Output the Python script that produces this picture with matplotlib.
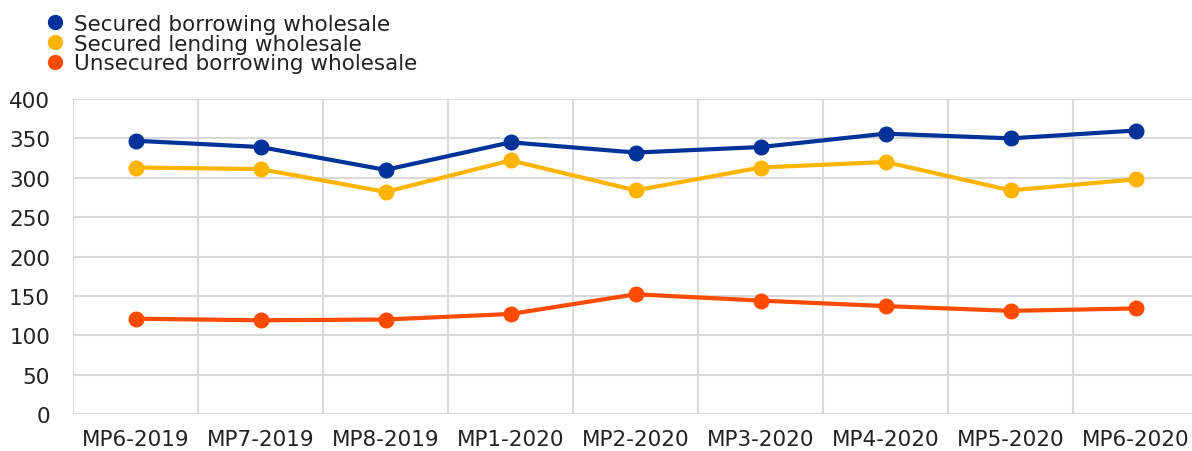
import matplotlib
matplotlib.use("Agg")
import matplotlib.pyplot as plt
import numpy as np

categories = ["MP6-2019", "MP7-2019", "MP8-2019", "MP1-2020", "MP2-2020",
              "MP3-2020", "MP4-2020", "MP5-2020", "MP6-2020"]
secured_borrowing = [347, 339, 310, 345, 332, 339, 356, 350, 360]
secured_lending = [313, 311, 282, 322, 284, 313, 320, 284, 298]
unsecured_borrowing = [121, 119, 120, 127, 152, 144, 137, 131, 134]
yticks = [0, 50, 100, 150, 200, 250, 300, 350, 400]

plt.rcParams['font.family'] = ['DejaVu Sans']

fig = plt.figure(figsize=(11.92, 4.52), dpi=100)
ax = fig.add_axes([73/1192, 37/452, 1 - 73/1192, 315/452])

x = np.arange(len(categories))
series = [
    ("Secured borrowing wholesale", secured_borrowing, "#003299"),
    ("Secured lending wholesale", secured_lending, "#FFB400"),
    ("Unsecured borrowing wholesale", unsecured_borrowing, "#FF4B00"),
]
handles = []
for label, vals, col in series:
    ax.plot(x, vals, color=col, lw=3, marker="o", ms=10.5, zorder=3)
    h, = ax.plot([], [], color=col, ls="none", marker="o", ms=10, label=label)
    handles.append(h)

ax.set_xlim(-0.5, 8.45)
ax.set_ylim(0, 400)
ax.set_yticks(yticks)
ax.set_xticks(x)
ax.set_xticklabels(categories)
ax.set_xticks(np.arange(-0.5, 8.5, 1.0), minor=True)
ax.grid(False)
ax.grid(True, which="minor", axis="x", color="#d9d9d9", lw=1.5)
ax.grid(True, which="major", axis="y", color="#d9d9d9", lw=1.5)
ax.set_axisbelow(True)
for s in ax.spines.values():
    s.set_visible(False)
ax.tick_params(axis="both", which="both", length=0, labelsize=15.5, colors="#222222")
ax.tick_params(axis="x", pad=11)
ax.tick_params(axis="y", pad=16.5)

fig.legend(handles=handles, loc="upper left", bbox_to_anchor=(31/1192, 1.005),
           frameon=False, fontsize=15.5, handlelength=0.6, handletextpad=0.6,
           labelspacing=-0.02, borderpad=0.3, labelcolor="#222222")

fig.savefig("out.png", dpi=100)
